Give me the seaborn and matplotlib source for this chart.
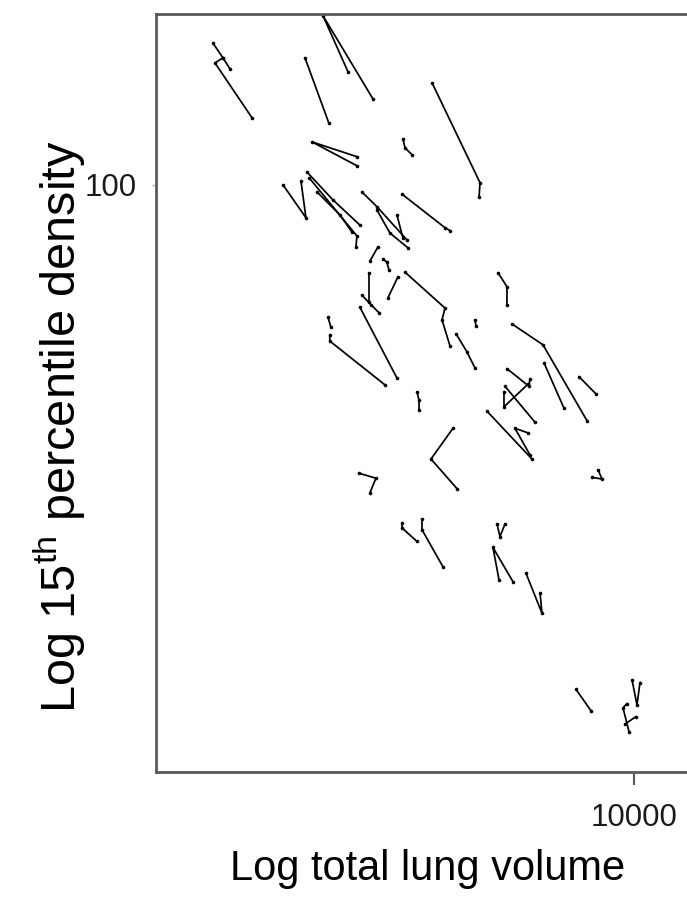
import matplotlib
matplotlib.use("Agg")
import matplotlib.pyplot as plt
import matplotlib.ticker as mticker
import seaborn as sns
import pandas as pd

# Total lung volume (mL) per subject, repeated measurements
tlv = [
    [3793, 3881, 3945],
    [3881, 3811, 4150],
    [5177, 4887, 5482],
    [4688, 4953],
    [6281, 7015, 7000],
    [5874, 5902, 5998],
    [5284, 4764, 5284],
    [4457, 4699, 4645],
    [4710, 5000, 5318],
    [4735, 5284, 5272],
    [4819, 5082, 5224],
    [5344, 5533, 5929],
    [5533, 5701, 5943],
    [5794, 5874],
    [5861, 6472, 6547],
    [5546, 5444],
    [5610, 5662, 5688],
    [5432, 5432],
    [5344, 5457, 5559],
    [5807, 5675],
    [5902, 6472, 6427, 6547],
    [5318, 5794],
    [6637, 6806, 6934],
    [6934, 6950],
    [4942, 4976],
    [4964, 4964, 5636],
    [6068, 6096, 6096],
    [6592, 6266, 6652],
    [5305, 5520, 5444],
    [7311, 7464, 7464],
    [7551, 8109, 8975],
    [8128, 8511],
    [8810, 9162],
    [7464, 7852, 7870],
    [7430, 7961],
    [7413, 7413, 7834],
    [7128, 7906],
    [7834, 7603, 7870],
    [9078, 9290, 9205],
    [5861, 5861, 6068],
    [6138, 6138, 6442],
    [7295, 7345, 7430],
    [7328, 7227, 7569],
    [7798, 8091, 8055],
    [8750, 9057],
    [9954, 10069, 10139],
    [9840, 9750, 9886],
    [9795, 10046],
]

# 15th percentile density per subject, same order
dens = [
    [138.6, 134.0, 130.6],
    [134.0, 132.4, 116.7],
    [129.7, 147.6, 121.9],
    [134.0, 115.3],
    [126.5, 100.5, 97.3],
    [111.2, 108.9, 107.2],
    [106.7, 110.4, 104.5],
    [100.0, 92.7, 100.9],
    [103.0, 96.6, 91.2],
    [101.6, 88.9, 86.7],
    [98.4, 93.3, 89.7],
    [98.4, 95.1, 88.1],
    [94.4, 89.5, 86.5],
    [93.3, 88.5],
    [97.9, 90.6, 90.0],
    [86.7, 83.9],
    [84.3, 83.7, 82.2],
    [81.7, 76.4],
    [77.6, 75.9, 74.5],
    [80.9, 77.1],
    [81.8, 75.3, 73.3, 69.0],
    [75.5, 64.1],
    [71.0, 68.1, 65.6],
    [73.3, 72.3],
    [73.8, 72.1],
    [70.8, 69.8, 63.1],
    [62.1, 60.9, 59.6],
    [57.1, 53.2, 49.7],
    [51.5, 50.9, 49.2],
    [81.7, 79.1, 75.9],
    [72.6, 69.2, 58.1],
    [66.4, 59.8],
    [64.3, 61.8],
    [65.5, 62.9, 64.0],
    [62.9, 57.9],
    [62.1, 60.0, 63.2],
    [59.4, 53.2],
    [56.5, 57.1, 53.7],
    [51.0, 50.8, 51.9],
    [45.9, 45.4, 44.0],
    [46.3, 45.2, 41.5],
    [45.8, 44.5, 45.8],
    [40.3, 43.4, 40.1],
    [40.9, 37.3, 39.1],
    [31.3, 29.8],
    [32.0, 30.2, 31.8],
    [30.3, 30.0, 28.4],
    [28.9, 29.4],
]

x_ticks = [10000]
x_tick_labels = ["10000"]
y_ticks = [100]
y_tick_labels = ["100"]

rows = []
for sid, (xs, ys) in enumerate(zip(tlv, dens)):
    for order, (xv, yv) in enumerate(zip(xs, ys)):
        rows.append({"subject": sid, "order": order, "tlv": xv, "dens": yv})
df = pd.DataFrame(rows)

sns.set_theme(style="white")
plt.rcParams["font.family"] = ["Liberation Sans", "DejaVu Sans"]
plt.rcParams["mathtext.fontset"] = "custom"
plt.rcParams["mathtext.rm"] = "Liberation Sans"
plt.rcParams["mathtext.it"] = "Liberation Sans:italic"
plt.rcParams["mathtext.bf"] = "Liberation Sans:bold"
plt.rcParams["text.color"] = "black"
plt.rcParams["axes.labelcolor"] = "black"
plt.rcParams["xtick.color"] = "black"
plt.rcParams["ytick.color"] = "black"

fig = plt.figure(figsize=(6.87, 8.98), dpi=100)
ax = fig.add_axes([156 / 687, 1 - 772 / 898, (700 - 156) / 687, 758 / 898])

sns.lineplot(data=df, x="tlv", y="dens", units="subject", estimator=None,
             sort=False, color="black", linewidth=1.25, marker="o",
             markersize=2.6, markeredgewidth=0, ax=ax, legend=False)

ax.set_xscale("log")
ax.set_yscale("log")
ax.set_xlim(3327, 11641)
ax.set_ylim(25.88, 148.2)

ax.xaxis.set_major_locator(mticker.FixedLocator(x_ticks))
ax.xaxis.set_major_formatter(mticker.FixedFormatter(x_tick_labels))
ax.yaxis.set_major_locator(mticker.FixedLocator(y_ticks))
ax.yaxis.set_major_formatter(mticker.FixedFormatter(y_tick_labels))
ax.xaxis.set_minor_locator(mticker.NullLocator())
ax.yaxis.set_minor_locator(mticker.NullLocator())

for sp in ax.spines.values():
    sp.set_color("#5a5a5a")
    sp.set_linewidth(2)
    sp.set_visible(True)

ax.tick_params(axis="x", which="major", direction="out", length=9, width=1.5,
               color="#5a5a5a", labelcolor="#1a1a1a", labelsize=22.5, pad=13,
               bottom=True)
ax.tick_params(axis="y", which="major", direction="out", length=3, width=1,
               color="#aaaaaa", labelcolor="#1a1a1a", labelsize=22.5, pad=11,
               left=True)

ax.set_xlabel("Log total lung volume", fontsize=30, labelpad=12, color="black")
ax.set_ylabel(r"Log 15$^{\mathrm{th}}$ percentile density", fontsize=35,
              color="black")
ax.yaxis.set_label_coords(-0.125, 0.455)

fig.savefig("out.png", dpi=100)
